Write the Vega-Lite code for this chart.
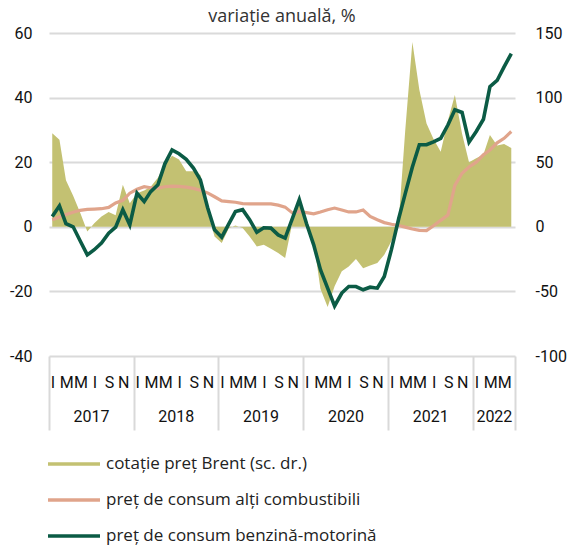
{
  "$schema": "https://vega.github.io/schema/vega-lite/v6.json",
  "width": 466,
  "height": 323,
  "autosize": {"type": "none"},
  "padding": {"left": 49, "top": 33, "right": 53, "bottom": 190},
  "background": "white",
  "title": {"text": "variație anuală, %", "anchor": "middle", "frame": "group", "font": "Open Sans", "fontSize": 18, "fontWeight": "normal", "color": "#333333", "offset": -1},
  "config": {"view": {"stroke": null}},
  "data": {"values": [
    {"luna": "2017-01-15", "brent": 72.4, "alti": 2.2, "benz": 3.2},
    {"luna": "2017-02-15", "brent": 67.3, "alti": 3.0, "benz": 6.5},
    {"luna": "2017-03-15", "brent": 36, "alti": 3.8, "benz": 1.0},
    {"luna": "2017-04-15", "brent": 24, "alti": 4.5, "benz": 0.0},
    {"luna": "2017-05-15", "brent": 11, "alti": 5.1, "benz": -4.3},
    {"luna": "2017-06-15", "brent": -3.6, "alti": 5.4, "benz": -8.7},
    {"luna": "2017-07-15", "brent": 2.8, "alti": 5.5, "benz": -7.1},
    {"luna": "2017-08-15", "brent": 8, "alti": 5.6, "benz": -5.0},
    {"luna": "2017-09-15", "brent": 11.5, "alti": 6.0, "benz": -2.0},
    {"luna": "2017-10-15", "brent": 9, "alti": 7.4, "benz": -0.1},
    {"luna": "2017-11-15", "brent": 32.5, "alti": 8.2, "benz": 5.3},
    {"luna": "2017-12-15", "brent": 18.3, "alti": 10.4, "benz": 0.6},
    {"luna": "2018-01-15", "brent": 26, "alti": 11.6, "benz": 10.4},
    {"luna": "2018-02-15", "brent": 28, "alti": 12.4, "benz": 7.8},
    {"luna": "2018-03-15", "brent": 31, "alti": 12.1, "benz": 10.9},
    {"luna": "2018-04-15", "brent": 38, "alti": 12.0, "benz": 13.0},
    {"luna": "2018-05-15", "brent": 48, "alti": 12.4, "benz": 19.5},
    {"luna": "2018-06-15", "brent": 55, "alti": 12.6, "benz": 23.8},
    {"luna": "2018-07-15", "brent": 52, "alti": 12.5, "benz": 22.6},
    {"luna": "2018-08-15", "brent": 43, "alti": 12.3, "benz": 20.9},
    {"luna": "2018-09-15", "brent": 43, "alti": 11.9, "benz": 18.2},
    {"luna": "2018-10-15", "brent": 40, "alti": 11.3, "benz": 14.5},
    {"luna": "2018-11-15", "brent": 12, "alti": 10.5, "benz": 6.0},
    {"luna": "2018-12-15", "brent": -7.5, "alti": 9.3, "benz": -0.9},
    {"luna": "2019-01-15", "brent": -12.6, "alti": 8.0, "benz": -3.2},
    {"luna": "2019-02-15", "brent": -1, "alti": 7.8, "benz": 1.0},
    {"luna": "2019-03-15", "brent": 1, "alti": 7.6, "benz": 4.7},
    {"luna": "2019-04-15", "brent": -1, "alti": 7.2, "benz": 5.3},
    {"luna": "2019-05-15", "brent": -7.5, "alti": 7.1, "benz": 2.2},
    {"luna": "2019-06-15", "brent": -15.2, "alti": 7.1, "benz": -1.7},
    {"luna": "2019-07-15", "brent": -13.9, "alti": 7.1, "benz": -0.3},
    {"luna": "2019-08-15", "brent": -17, "alti": 7.1, "benz": -0.4},
    {"luna": "2019-09-15", "brent": -20.3, "alti": 6.7, "benz": -2.5},
    {"luna": "2019-10-15", "brent": -24.2, "alti": 6.1, "benz": -3.5},
    {"luna": "2019-11-15", "brent": 3, "alti": 4.3, "benz": 2.5},
    {"luna": "2019-12-15", "brent": 20, "alti": 4.7, "benz": 8.4},
    {"luna": "2020-01-15", "brent": 5, "alti": 4.4, "benz": 1.0},
    {"luna": "2020-02-15", "brent": -11.3, "alti": 4.0, "benz": -5.6},
    {"luna": "2020-03-15", "brent": -48, "alti": 4.6, "benz": -13.3},
    {"luna": "2020-04-15", "brent": -62, "alti": 5.3, "benz": -19.0},
    {"luna": "2020-05-15", "brent": -46, "alti": 5.8, "benz": -24.5},
    {"luna": "2020-06-15", "brent": -34.5, "alti": 5.2, "benz": -20.5},
    {"luna": "2020-07-15", "brent": -30.7, "alti": 4.6, "benz": -18.5},
    {"luna": "2020-08-15", "brent": -25, "alti": 4.6, "benz": -18.5},
    {"luna": "2020-09-15", "brent": -32, "alti": 5.2, "benz": -19.5},
    {"luna": "2020-10-15", "brent": -30, "alti": 3.2, "benz": -18.7},
    {"luna": "2020-11-15", "brent": -28, "alti": 2.2, "benz": -19.0},
    {"luna": "2020-12-15", "brent": -21.7, "alti": 1.3, "benz": -15.4},
    {"luna": "2021-01-15", "brent": -11, "alti": 0.8, "benz": -7.0},
    {"luna": "2021-02-15", "brent": 4, "alti": 0.4, "benz": 2.5},
    {"luna": "2021-03-15", "brent": 74, "alti": -0.1, "benz": 10.2},
    {"luna": "2021-04-15", "brent": 143, "alti": -0.7, "benz": 18.5},
    {"luna": "2021-05-15", "brent": 106, "alti": -1.1, "benz": 25.4},
    {"luna": "2021-06-15", "brent": 80, "alti": -1.2, "benz": 25.4},
    {"luna": "2021-07-15", "brent": 68, "alti": 0.3, "benz": 26.3},
    {"luna": "2021-08-15", "brent": 58, "alti": 2.0, "benz": 27.4},
    {"luna": "2021-09-15", "brent": 82, "alti": 3.6, "benz": 31.5},
    {"luna": "2021-10-15", "brent": 102, "alti": 12.8, "benz": 36.2},
    {"luna": "2021-11-15", "brent": 72, "alti": 16.6, "benz": 35.4},
    {"luna": "2021-12-15", "brent": 50, "alti": 18.5, "benz": 26.2},
    {"luna": "2022-01-15", "brent": 53, "alti": 20.0, "benz": 29.5},
    {"luna": "2022-02-15", "brent": 56, "alti": 22.3, "benz": 33.3},
    {"luna": "2022-03-15", "brent": 71, "alti": 23.8, "benz": 43.4},
    {"luna": "2022-04-15", "brent": 63, "alti": 26.0, "benz": 45.3},
    {"luna": "2022-05-15", "brent": 64, "alti": 27.4, "benz": 49.5},
    {"luna": "2022-06-15", "brent": 61, "alti": 29.5, "benz": 53.6}
  ]},
  "resolve": {"scale": {"y": "independent"}, "axis": {"x": "independent"}},
  "layer": [
    {
      "mark": {"type": "area", "opacity": 1},
      "encoding": {
        "x": {"field": "luna", "type": "temporal",
          "scale": {"type": "utc", "domain": [{"year": 2017, "month": 1, "date": 1, "utc": true}, {"year": 2022, "month": 7, "date": 1, "utc": true}]},
          "axis": {"title": null, "orient": "bottom", "domain": false, "ticks": false, "grid": false,
            "tickCount": {"interval": "month", "step": 2},
            "labelExpr": "datum.value >= utc(2022,6,1) ? '' : ['I','','M','','M','','I','','S','','N',''][utcmonth(datum.value)]",
            "labelOffset": 3.5, "labelFlush": false, "labelOverlap": false, "labelBound": false,
            "labelPadding": 18, "labelFont": "Roboto", "labelFontSize": 16, "labelColor": "#111111"}},
        "y": {"field": "brent", "type": "quantitative",
          "scale": {"domain": [-100, 150], "nice": false},
          "axis": {"title": null, "orient": "right", "values": [-100, -50, 0, 50, 100, 150], "domain": false, "ticks": false, "grid": false,
            "labelExpr": "datum.value + ''",
            "labelPadding": 20, "labelFont": "Roboto", "labelFontSize": 16, "labelColor": "#111111"}},
        "color": {"datum": "cotație preț Brent (sc. dr.)",
          "scale": {"domain": ["cotație preț Brent (sc. dr.)", "preț de consum alți combustibili", "preț de consum benzină-motorină"], "range": ["#c3c172", "#e0a48b", "#0b5b45"]},
          "legend": {"orient": "none", "legendX": -3, "legendY": 403, "direction": "vertical", "title": null,
            "symbolType": "M-1,0H1", "symbolSize": 2704, "symbolStrokeWidth": 3.5,
            "labelFont": "Open Sans", "labelFontSize": 17, "labelColor": "#222222", "labelOffset": 4, "rowPadding": -17, "labelLimit": 400,
            "encode": {"symbols": {"update": {
              "stroke": {"scale": "color", "field": "value"},
              "fill": {"value": "transparent"},
              "strokeWidth": {"signal": "datum.value === 'cotație preț Brent (sc. dr.)' ? 12 : 3.5"},
              "opacity": {"value": 1}
            }}}}}
      }
    },
    {
      "mark": {"type": "line", "strokeWidth": 3.2},
      "encoding": {
        "x": {"field": "luna", "type": "temporal",
          "axis": {"title": null, "orient": "bottom", "domain": false, "ticks": false, "grid": false,
            "values": [{"year": 2017, "month": 7, "date": 1, "utc": true}, {"year": 2018, "month": 7, "date": 1, "utc": true}, {"year": 2019, "month": 7, "date": 1, "utc": true}, {"year": 2020, "month": 7, "date": 1, "utc": true}, {"year": 2021, "month": 7, "date": 1, "utc": true}, {"year": 2022, "month": 4, "date": 1, "utc": true}],
            "labelExpr": "utcFormat(datum.value, '%Y')",
            "labelFlush": false, "labelOverlap": false, "labelBound": false,
            "labelPadding": 52, "labelFont": "Roboto", "labelFontSize": 16, "labelColor": "#111111"}},
        "y": {"field": "alti", "type": "quantitative",
          "scale": {"domain": [-40, 60], "nice": false},
          "axis": {"title": null, "orient": "left", "values": [-40, -20, 0, 20, 40, 60], "domain": false, "ticks": false,
            "grid": true, "gridColor": "#dadada", "gridWidth": 2,
            "labelExpr": "datum.value + ''",
            "labelPadding": 17, "labelFont": "Roboto", "labelFontSize": 16, "labelColor": "#111111"}},
        "color": {"datum": "preț de consum alți combustibili"}
      }
    },
    {
      "mark": {"type": "line", "strokeWidth": 3.6},
      "encoding": {
        "x": {"field": "luna", "type": "temporal",
          "axis": {"title": null, "orient": "bottom", "domain": false, "labels": false, "grid": false,
            "ticks": true, "tickSize": 74, "tickColor": "#d9d9d9", "tickWidth": 2,
            "values": [{"year": 2017, "month": 1, "date": 1, "utc": true}, {"year": 2018, "month": 1, "date": 1, "utc": true}, {"year": 2019, "month": 1, "date": 1, "utc": true}, {"year": 2020, "month": 1, "date": 1, "utc": true}, {"year": 2021, "month": 1, "date": 1, "utc": true}, {"year": 2022, "month": 1, "date": 1, "utc": true}, {"year": 2022, "month": 7, "date": 1, "utc": true}]}},
        "y": {"field": "benz", "type": "quantitative",
          "scale": {"domain": [-40, 60], "nice": false},
          "axis": null},
        "color": {"datum": "preț de consum benzină-motorină"}
      }
    }
  ]
}
